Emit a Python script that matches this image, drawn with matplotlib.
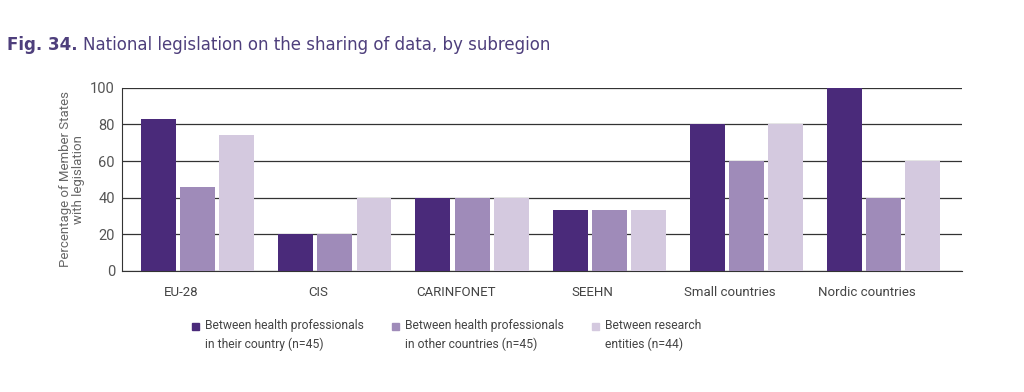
import numpy as np
import matplotlib.pyplot as plt
from matplotlib.patches import Rectangle

# data
regions = ["EU-28", "CIS", "CARINFONET", "SEEHN", "Small countries", "Nordic countries"]
own_country = [83, 20, 40, 33, 80, 100]
other_countries = [46, 20, 40, 33, 60, 40]
research = [74, 40, 40, 33, 80, 60]
series_labels = [
    "Between health professionals\nin their country (n=45)",
    "Between health professionals\nin other countries (n=45)",
    "Between research\nentities (n=44)",
]
colors = ["#4a2a7a", "#9f8bb9", "#d4c9df"]

plt.rcParams["font.family"] = ["Roboto", "DejaVu Sans"]

fig = plt.figure(figsize=(10.24, 3.92), dpi=100)
ax = fig.add_axes([0.119, 0.309, 0.820, 0.467])

x = np.arange(len(regions))
w = 0.255
step = 0.285
for k, (vals, c, lab) in enumerate(zip([own_country, other_countries, research], colors, series_labels)):
    ax.bar(x + (k - 1) * step, vals, width=w, color=c, label=lab, zorder=3)

ax.set_ylim(0, 100)
ax.set_xlim(-0.554, 5.57)
ax.set_yticks(range(0, 101, 20))
ax.yaxis.grid(True, color="#333333", linewidth=0.9, zorder=0)
ax.set_axisbelow(True)
ax.set_xticks(x - 0.12)
ax.set_xticklabels(regions)
ax.tick_params(axis="both", length=0, labelsize=9.5, colors="#444444")
ax.tick_params(axis="y", labelsize=10.5, pad=5, colors="#555555")
ax.tick_params(axis="x", pad=11)
for s in ["top", "right"]:
    ax.spines[s].set_visible(False)
ax.spines["left"].set_color("#333333")
ax.spines["bottom"].set_color("#333333")
ax.set_ylabel("Percentage of Member States\nwith legislation", fontsize=9.5,
              color="#666666", linespacing=0.95, labelpad=4)

t1 = fig.text(0.007, 0.885, "Fig. 34.", fontsize=12, fontweight="bold", color="#4e3f7c",
              family="DejaVu Sans", va="center")
fig.add_artist(plt.Annotation("National legislation on the sharing of data, by subregion",
                              xy=(1, 0.5), xycoords=t1, xytext=(4, 0), textcoords="offset points",
                              va="center", fontsize=12, color="#4e3f7c", family="DejaVu Sans"))

# legend: swatch next to the first line of each label
for c, lab, x0 in zip(colors, series_labels, [192, 392, 592]):
    fig.add_artist(Rectangle((x0 / 1024, 1 - 330 / 392), 7 / 1024, 7 / 392,
                             transform=fig.transFigure, color=c))
    fig.text((x0 + 13) / 1024, 1 - 319 / 392, lab, fontsize=8.7, color="#444444",
             va="top", ha="left", linespacing=1.55)

fig.savefig("out.png", dpi=100)
